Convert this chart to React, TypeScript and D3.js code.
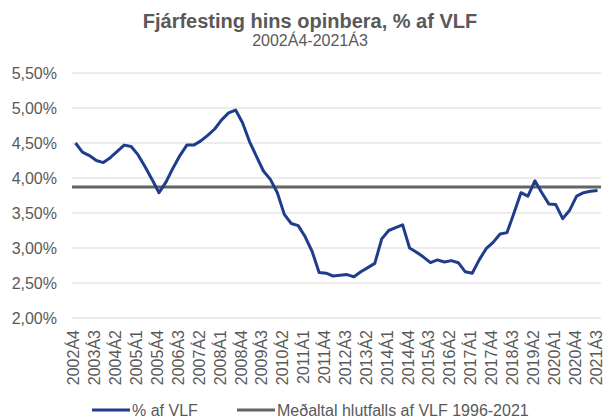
import React from 'react';
import * as d3 from 'd3';

// quarterly values, 2002Á4 .. 2021Á3
const quarters: string[] = [];
for (let y = 2002, q = 4; quarters.length < 76; ) {
  quarters.push(`${y}Á${q}`);
  q += 1;
  if (q > 4) { q = 1; y += 1; }
}

const shareOfGdp = [
  4.50, 4.37, 4.32, 4.25, 4.22, 4.29, 4.38, 4.47, 4.45, 4.33,
  4.16, 3.98, 3.79, 3.94, 4.14, 4.32, 4.47, 4.47, 4.53, 4.61,
  4.70, 4.83, 4.93, 4.97, 4.79, 4.52, 4.31, 4.10, 3.98, 3.79,
  3.48, 3.35, 3.32, 3.16, 2.95, 2.65, 2.64, 2.60, 2.61, 2.62,
  2.59, 2.66, 2.72, 2.78, 3.13, 3.25, 3.29, 3.33, 3.00, 2.94,
  2.87, 2.79, 2.83, 2.80, 2.82, 2.79, 2.66, 2.64, 2.83, 2.99,
  3.08, 3.20, 3.22, 3.50, 3.79, 3.74, 3.96, 3.79, 3.63, 3.62,
  3.42, 3.54, 3.74, 3.79, 3.81, 3.82,
];

const longRunAverage = 3.87; // 1996-2021
const yTicks = [2.0, 2.5, 3.0, 3.5, 4.0, 4.5, 5.0, 5.5];
const labelEvery = 3;

const title = 'Fjárfesting hins opinbera, % af VLF';
const subtitle = '2002Á4-2021Á3';
const legendLabels = ['% af VLF', 'Meðaltal hlutfalls af VLF 1996-2021'];

const W = 605;
const H = 419;
const margin = { top: 73, right: 4, bottom: 101, left: 72 };
const FONT = 'Arial, "Liberation Sans", sans-serif';
const TEXT = '#595959';
const BLUE = '#1F3D8C';
const GREY = '#646464';

const fmt = (v: number) => v.toFixed(2).replace('.', ',') + '%';

const App = () => {
  const x = d3.scaleBand<string>()
    .domain(quarters)
    .range([margin.left, W - margin.right]);

  const y = d3.scaleLinear()
    .domain([2.0, 5.5])
    .range([H - margin.bottom, margin.top]);

  const cx = (q: string) => (x(q) as number) + x.bandwidth() / 2;

  const line = d3.line<number>()
    .x((_, i) => cx(quarters[i]))
    .y(d => y(d));

  const titleX = 310;

  return (
    <div style={{ position: 'fixed', left: 0, top: 0 }}>
      <svg width={W} height={H} style={{ display: 'block', background: '#fff' }}>
        <text x={titleX} y={28} textAnchor="middle" fontFamily={FONT} fontSize={20}
          fontWeight="bold" fill={TEXT}>{title}</text>
        <text x={titleX} y={46} textAnchor="middle" fontFamily={FONT} fontSize={16}
          fill={TEXT}>{subtitle}</text>

        {/* gridlines + y labels */}
        {yTicks.map(t => (
          <g key={t}>
            <line x1={margin.left} x2={W - margin.right} y1={y(t)} y2={y(t)}
              stroke="#D9D9D9" strokeWidth={1} />
            <text x={57} y={y(t)} dy="0.35em" textAnchor="end" fontFamily={FONT}
              fontSize={16} fill={TEXT}>{fmt(t)}</text>
          </g>
        ))}

        {/* x labels, rotated */}
        {quarters.filter((_, i) => i % labelEvery === 0).map(q => (
          <text key={q} transform={`translate(${cx(q)},${H - margin.bottom + 12}) rotate(-90)`}
            dy="0.25em" textAnchor="end" fontFamily={FONT} fontSize={16} fill={TEXT}>{q}</text>
        ))}

        {/* average line */}
        <line x1={margin.left} x2={W - margin.right} y1={y(longRunAverage)} y2={y(longRunAverage)}
          stroke={GREY} strokeWidth={3} />

        <path d={line(shareOfGdp) || ''} fill="none" stroke={BLUE} strokeWidth={3}
          strokeLinejoin="round" />

        {/* legend */}
        <g fontFamily={FONT} fontSize={16} fill={TEXT}>
          <line x1={92} x2={130} y1={410} y2={410} stroke={BLUE} strokeWidth={3} />
          <text x={132} y={410} dy="0.35em">{legendLabels[0]}</text>
          <line x1={237} x2={275} y1={410} y2={410} stroke={GREY} strokeWidth={3} />
          <text x={277} y={410} dy="0.35em">{legendLabels[1]}</text>
        </g>
      </svg>
    </div>
  );
};

export default App;
